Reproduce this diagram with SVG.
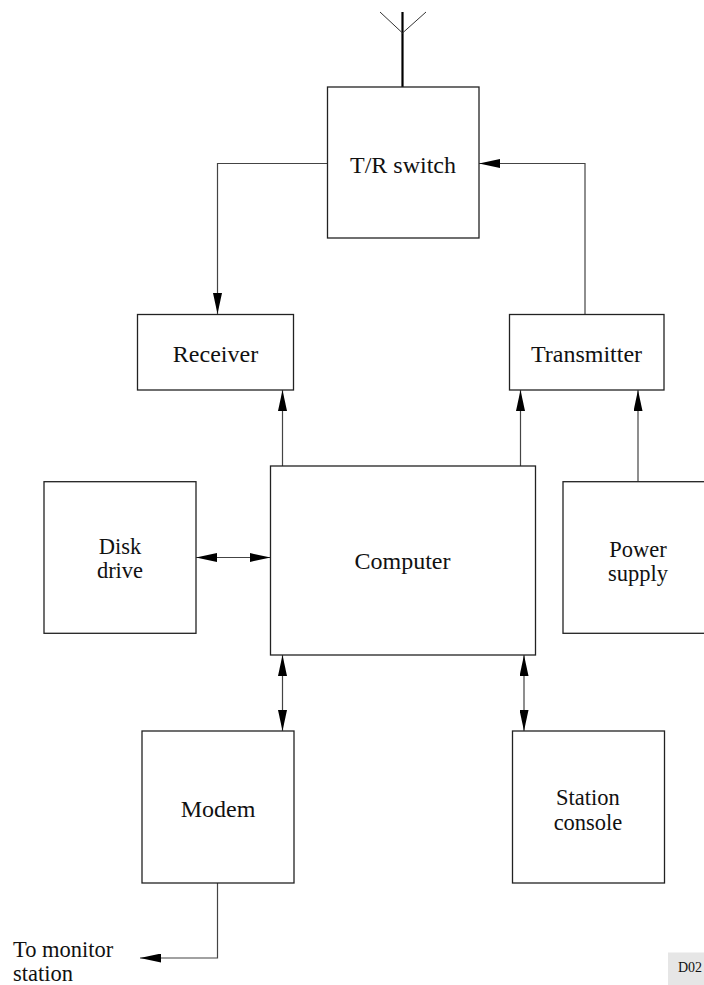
<svg xmlns="http://www.w3.org/2000/svg" width="704" height="985" viewBox="0 0 704 985">
<style>
.box{fill:#fff;stroke:#222;stroke-width:1.3}
.ln{fill:none;stroke:#444;stroke-width:1.2}
.t{font-family:"Liberation Serif","Times New Roman",serif;font-size:24px;fill:#111;text-anchor:middle}
.t2{font-family:"Liberation Serif","Times New Roman",serif;font-size:22.5px;fill:#111;text-anchor:middle}
.tl{font-family:"Liberation Serif","Times New Roman",serif;font-size:22.5px;fill:#111}
</style>
<defs>
<marker id="ah" markerUnits="userSpaceOnUse" viewBox="0 0 21 9" markerWidth="21" markerHeight="9" refX="21" refY="4.5" orient="auto-start-reverse">
<path d="M0,0 L21,4.5 L0,9 z" fill="#000"/>
</marker>
</defs>
<rect width="704" height="985" fill="#fff"/>
<g id="antenna">
<path d="M402.5,12 V87" fill="none" stroke="#000" stroke-width="2.2"/>
<path d="M380,12 L402.5,33 L426,12" fill="none" stroke="#333" stroke-width="1"/>
</g>
<g id="connectors">
<path class="ln" d="M327.5,163.5 H217.5 V314" marker-end="url(#ah)"/>
<path class="ln" d="M585,314.5 V163.5 H479" marker-end="url(#ah)"/>
<path class="ln" d="M282.5,466 V390" marker-end="url(#ah)"/>
<path class="ln" d="M520.5,466 V390" marker-end="url(#ah)"/>
<path class="ln" d="M638,481.7 V390" marker-end="url(#ah)"/>
<path class="ln" d="M196,557.5 H270.5" marker-start="url(#ah)" marker-end="url(#ah)"/>
<path class="ln" d="M282.5,655 V731" marker-start="url(#ah)" marker-end="url(#ah)"/>
<path class="ln" d="M524,655 V731" marker-start="url(#ah)" marker-end="url(#ah)"/>
<path class="ln" d="M217.5,883 V958 H140" marker-end="url(#ah)"/>
</g>
<g id="trswitch">
<rect class="box" x="327.5" y="87" width="151.5" height="151"/>
<text class="t" x="403" y="173">T/R switch</text>
</g>
<g id="receiver">
<rect class="box" x="137.5" y="314.5" width="156" height="75.5"/>
<text class="t" x="215.5" y="362">Receiver</text>
</g>
<g id="transmitter">
<rect class="box" x="509.5" y="314.5" width="154.5" height="75.5"/>
<text class="t" x="586.5" y="362">Transmitter</text>
</g>
<g id="diskdrive">
<rect class="box" x="44" y="481.7" width="152" height="151.6"/>
<text class="t2" x="120" y="554">Disk</text>
<text class="t2" x="120" y="578">drive</text>
</g>
<g id="computer">
<rect class="box" x="270.5" y="466" width="265" height="189"/>
<text class="t" x="402.5" y="569">Computer</text>
</g>
<g id="powersupply">
<rect class="box" x="563" y="481.7" width="152" height="151.6"/>
<text class="t2" x="638" y="557">Power</text>
<text class="t2" x="638" y="581">supply</text>
</g>
<g id="modem">
<rect class="box" x="142" y="731" width="152" height="152"/>
<text class="t" x="218" y="817">Modem</text>
</g>
<g id="stationconsole">
<rect class="box" x="512.5" y="731" width="152" height="152"/>
<text class="t2" x="588" y="805">Station</text>
<text class="t2" x="588" y="830">console</text>
</g>
<g id="monitor">
<text class="tl" x="13" y="957">To monitor</text>
<text class="tl" x="13" y="981">station</text>
</g>
<g id="label">
<rect x="668" y="952.5" width="40" height="33" fill="#e6e6e6"/>
<text x="678" y="972" font-family="Liberation Serif, Times New Roman, serif" font-size="14" fill="#111">D02</text>
</g>
</svg>
